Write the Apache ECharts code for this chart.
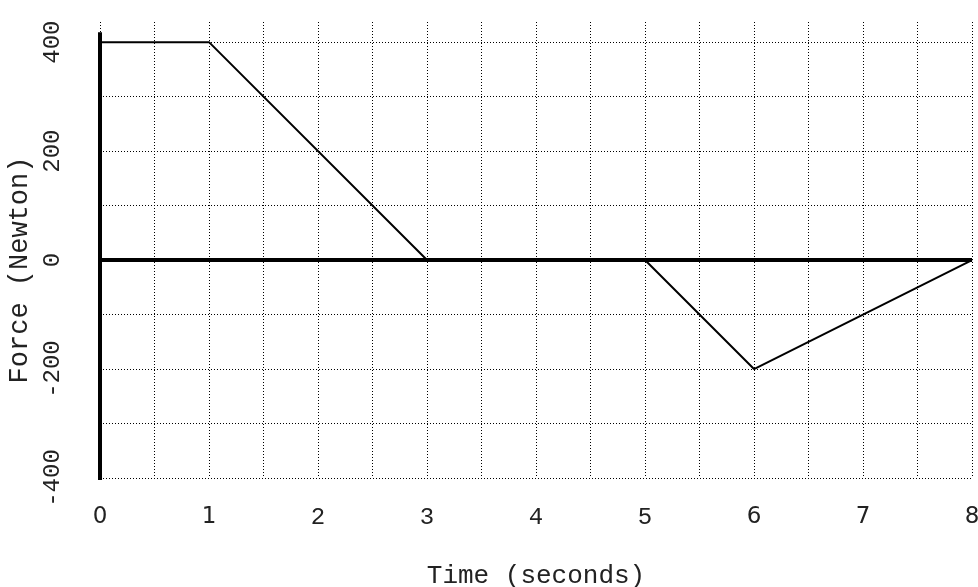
<!DOCTYPE html>
<html><head><meta charset="utf-8">
<script src="https://cdn.jsdelivr.net/npm/echarts@6/dist/echarts.min.js"></script>
<style>html,body{margin:0;padding:0;background:#fff}#c{width:978px;height:587px}</style>
</head><body><div id="c"></div>
<script>
const timeValues = [0, 1, 3, 5, 6, 8];
const forceValues = [400, 400, 0, 0, -200, 0];
const xTickLabels = ['0','1','2','3','4','5','6','7','8'];
const yTickLabels = [-400, -200, 0, 200, 400];
const sansX = ['0','1','6','7','8'];
const zeroLine = [[0, 0], [8, 0]];
const yAxisLine = [[0, 418], [0, -413]];

const mono = '"Liberation Mono", "Courier New", monospace';
const chart = echarts.init(document.getElementById('c'), null, {renderer: 'canvas'});
chart.setOption({
  animation: false,
  backgroundColor: '#fff',
  grid: {left: 100, right: 6, top: 22, bottom: 109, containLabel: false, outerBoundsMode: 'none'},
  xAxis: {
    type: 'value', min: 0, max: 8, interval: 0.5,
    axisLine: {show: false}, axisTick: {show: false},
    splitLine: {show: true, lineStyle: {color: '#000', width: 1, type: [1, 2]}},
    axisLabel: {
      margin: 28, color: '#222',
      formatter: v => {
        const s = String(v);
        if (!xTickLabels.includes(s)) return '';
        return sansX.includes(s) ? '{s|' + s + '}' : '{m|' + s + '}';
      },
      rich: {
        s: {fontFamily: '"DejaVu Sans", sans-serif', fontSize: 23, color: '#222'},
        m: {fontFamily: mono, fontSize: 24, color: '#222'}
      }
    },
    name: 'Time (seconds)', nameLocation: 'middle', nameGap: 85, nameMoveOverlap: false,
    nameTextStyle: {fontFamily: mono, fontSize: 26, color: '#222'}
  },
  yAxis: {
    type: 'value', min: -400, max: 437, interval: 100,
    axisLine: {show: false}, axisTick: {show: false},
    splitLine: {show: true, showMaxLine: false, lineStyle: {color: '#000', width: 1, type: [1, 2]}},
    axisLabel: {
      rotate: 90, margin: 47, color: '#222', fontFamily: mono, fontSize: 24,
      align: 'center', verticalAlign: 'middle',
      formatter: v => yTickLabels.includes(v) ? String(v) : ''
    },
    name: 'Force (Newton)', nameLocation: 'middle', nameGap: 67, nameMoveOverlap: false,
    nameRotate: 90,
    nameTextStyle: {fontFamily: mono, fontSize: 27, color: '#222', padding: [0, 40, 0, 0]}
  },
  series: [
    {type: 'line', data: zeroLine, symbol: 'none', silent: true,
     lineStyle: {color: '#000', width: 4}, z: 3},
    {type: 'line', data: yAxisLine, symbol: 'none', silent: true,
     lineStyle: {color: '#000', width: 4}, z: 3},
    {type: 'line', data: timeValues.map((t, i) => [t, forceValues[i]]), symbol: 'none',
     lineStyle: {color: '#000', width: 2}, z: 4}
  ]
});
</script></body></html>
